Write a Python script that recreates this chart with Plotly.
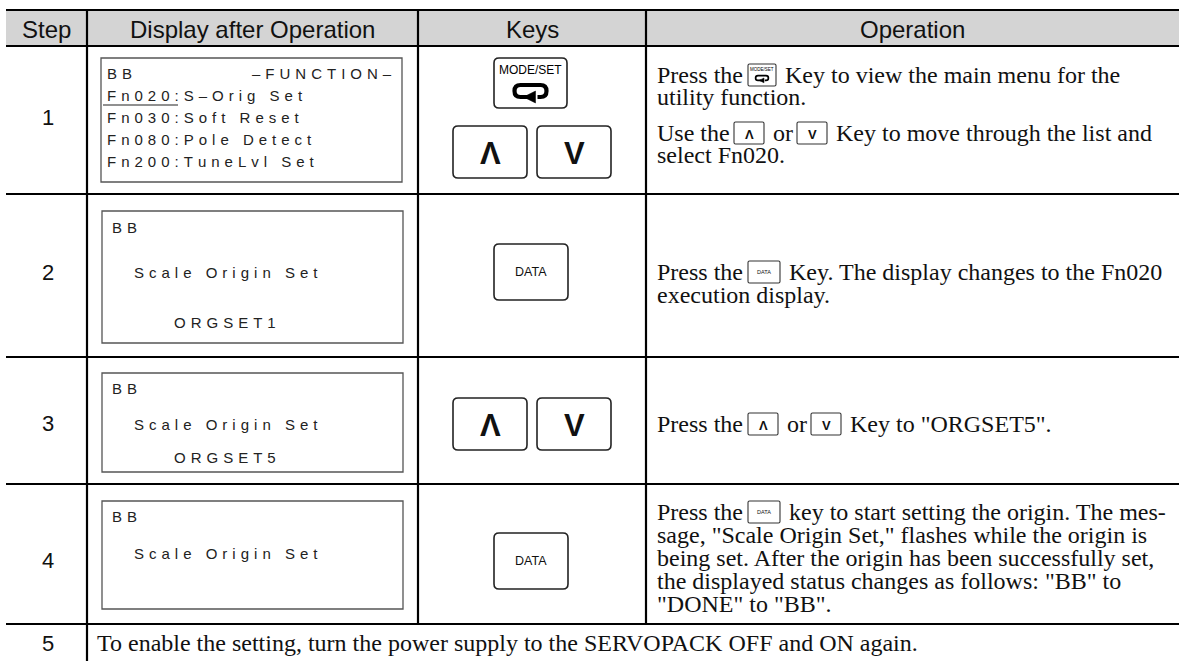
import plotly.graph_objects as go

W, H = 1179, 661

# ---------------- content ----------------
headers = ["Step", "Display after Operation", "Keys", "Operation"]
steps = ["1", "2", "3", "4", "5"]
lcd_lines = [
    ["BB", "Fn020:S–Orig Set", "Fn030:Soft Reset", "Fn080:Pole Detect", "Fn200:TuneLvl Set"],
    ["BB", "Scale Origin Set", "ORGSET1"],
    ["BB", "Scale Origin Set", "ORGSET5"],
    ["BB", "Scale Origin Set"],
]
lcd_title = "–FUNCTION–"
row_keys = [["MODE/SET", "UP", "DOWN"], ["DATA"], ["UP", "DOWN"], ["DATA"]]
op_lines = [
    [
        [("t", "Press the"), ("k", "MODE/SET"), ("t", "Key to view the main menu for the")],
        [("t", "utility function.")],
        [("t", "Use the"), ("k", "UP"), ("t", "or"), ("k", "DOWN"), ("t", "Key to move through the list and")],
        [("t", "select Fn020.")],
    ],
    [
        [("t", "Press the"), ("k", "DATA"), ("t", "Key. The display changes to the Fn020")],
        [("t", "execution display.")],
    ],
    [
        [("t", "Press the"), ("k", "UP"), ("t", "or"), ("k", "DOWN"), ("t", "Key to \"ORGSET5\".")],
    ],
    [
        [("t", "Press the"), ("k", "DATA"), ("t", "key to start setting the origin. The mes-")],
        [("t", "sage, \"Scale Origin Set,\" flashes while the origin is")],
        [("t", "being set. After the origin has been successfully set,")],
        [("t", "the displayed status changes as follows: \"BB\" to")],
        [("t", "\"DONE\" to \"BB\".")],
    ],
]
step5_text = "To enable the setting, turn the power supply to the SERVOPACK OFF and ON again."

# ---------------- layout (pixels) ----------------
col_x = [6, 87, 418, 646, 1179]
row_y = [10, 46, 194, 357, 484, 624, 661]
step_y = [117, 272, 423, 560, 643]

lcd_boxes = [(101, 402, 58, 182), (102, 403, 211, 343), (102, 403, 373, 472), (102, 403, 501, 609)]
lcd_pos = [
    [(105, 73), (105, 95), (105, 117), (105, 139), (105, 161)],
    [(110, 227), (132, 272), (172, 322)],
    [(110, 388), (132, 424), (172, 457)],
    [(110, 516), (132, 553)],
]
lcd_title_pos = (394, 73)
underline = (103, 178, 105)

key_boxes = [
    [(494, 567, 58, 108), (453, 527, 126, 178), (537, 611, 126, 178)],
    [(494, 568, 244, 300)],
    [(453, 527, 398, 450), (537, 611, 398, 450)],
    [(494, 568, 533, 589)],
]

op_y = [[75, 97, 133, 155], [272, 295], [424], [512, 535, 558, 581, 604]]
op_x = [
    [[655, (748, 776), 783], [655], [655, (734, 764), 771, (797, 827), 834], [655]],
    [[655, (748, 780), 787], [655]],
    [[655, (748, 778), 785, (811, 841), 848]],
    [[655, (748, 780), 787], [655], [655], [655], [655]],
]

SANS = "Liberation Sans, Arial, sans-serif"
SERIF = "Liberation Serif, Times New Roman, serif"

shapes = []
annotations = []


def add_text(x, y, text, size, family, xanchor="left", color="#111", bold=False):
    annotations.append(dict(
        x=x, y=y, xref="x", yref="y", text=text, showarrow=False,
        xanchor=xanchor, yanchor="middle",
        font=dict(size=size, family=family, color=color, weight=700 if bold else 400),
    ))


def line(x0, y0, x1, y1, w=2.2, color="#000"):
    shapes.append(dict(type="line", x0=x0, y0=y0, x1=x1, y1=y1, xref="x", yref="y",
                       line=dict(color=color, width=w), layer="above"))


def rrect_path(x0, x1, y0, y1, r):
    return (f"M{x0+r},{y0} L{x1-r},{y0} Q{x1},{y0} {x1},{y0+r} L{x1},{y1-r} "
            f"Q{x1},{y1} {x1-r},{y1} L{x0+r},{y1} Q{x0},{y1} {x0},{y1-r} "
            f"L{x0},{y0+r} Q{x0},{y0} {x0+r},{y0} Z")


def box(x0, x1, y0, y1, r, lw, color):
    shapes.append(dict(type="path", path=rrect_path(x0, x1, y0, y1, r), xref="x", yref="y",
                       line=dict(color=color, width=lw), fillcolor="white", layer="above"))


def loop_arrow(cx, cy, s):
    hw, hh = 16 * s, 6 * s
    xl, xr, yt, yb = cx - hw, cx + hw, cy - hh, cy + hh
    r = hh
    p = (f"M{cx-2*s},{yb} L{xl+r},{yb} Q{xl},{yb} {xl},{cy} Q{xl},{yt} {xl+r},{yt} "
         f"L{xr-r},{yt} Q{xr},{yt} {xr},{cy} Q{xr},{yb} {xr-r},{yb} L{cx+7*s},{yb}")
    shapes.append(dict(type="path", path=p, xref="x", yref="y",
                       line=dict(color="#000", width=max(4.2 * s, 1.2)), layer="above"))
    a = f"M{cx-7*s},{yb} L{cx+5*s},{yb-6*s} L{cx+5*s},{yb+6*s} Z"
    shapes.append(dict(type="path", path=a, xref="x", yref="y",
                       line=dict(color="#000", width=0.5), fillcolor="#000", layer="above"))


def big_key(kind, x0, x1, y0, y1):
    box(x0, x1, y0, y1, 5, 1.6, "#222")
    cx, cy = (x0 + x1) / 2, (y0 + y1) / 2
    if kind == "MODE/SET":
        add_text(cx, y0 + 12, "MODE/SET", 12, SANS, "center", "#000")
        loop_arrow(cx, y0 + 33, 1.0)
    elif kind == "UP":
        add_text(cx, cy + 1, "Λ", 31, SANS, "center", "#111", bold=True)
    elif kind == "DOWN":
        add_text(cx, cy + 1, "V", 31, SANS, "center", "#111", bold=True)
    else:
        add_text(cx, cy, kind, 12.5, SANS, "center", "#111")


def small_key(kind, x0, x1, yc):
    y0, y1 = yc - 11, yc + 11
    box(x0, x1, y0, y1, 1.5, 1.1, "#333")
    cx = (x0 + x1) / 2
    if kind == "MODE/SET":
        add_text(cx, y0 + 5, "MODE/SET", 4.5, SANS, "center", "#000")
        loop_arrow(cx, y0 + 14, 0.4)
    elif kind == "UP":
        add_text(cx, yc + 1, "Λ", 13, SANS, "center", "#111", bold=True)
    elif kind == "DOWN":
        add_text(cx, yc + 1, "V", 13, SANS, "center", "#111", bold=True)
    else:
        add_text(cx, yc, kind, 5.5, SANS, "center", "#111")


def spaced(s):
    return "\u2004".join(list(s))


# ---------------- table frame ----------------
shapes.append(dict(type="rect", x0=col_x[0], x1=col_x[-1], y0=row_y[0], y1=row_y[1],
                   xref="x", yref="y", fillcolor="#d4d4d4", line=dict(width=0), layer="below"))
for yy in row_y[:-1]:
    line(col_x[0], yy, col_x[-1], yy)
line(col_x[1], row_y[0], col_x[1], row_y[-1])
line(col_x[2], row_y[0], col_x[2], row_y[-2])
line(col_x[3], row_y[0], col_x[3], row_y[-2])

# headers
for i, h in enumerate(headers):
    add_text((col_x[i] + col_x[i + 1]) / 2, (row_y[0] + row_y[1]) / 2 + 1, h, 24, SANS, "center", "#111")

# step numbers
for s, yy in zip(steps, step_y):
    add_text((col_x[0] + col_x[1]) / 2 + 1, yy, s, 22, SANS, "center", "#111")

# LCD displays
for bx, lines_, pos in zip(lcd_boxes, lcd_lines, lcd_pos):
    shapes.append(dict(type="rect", x0=bx[0], x1=bx[1], y0=bx[2], y1=bx[3], xref="x", yref="y",
                       line=dict(color="#555", width=1.3), fillcolor="white", layer="above"))
    for t, (px, py) in zip(lines_, pos):
        add_text(px, py, spaced(t), 15, SANS, "left", "#222")
add_text(lcd_title_pos[0], lcd_title_pos[1], spaced(lcd_title), 15, SANS, "right", "#222")
line(underline[0], underline[2], underline[1], underline[2], w=1.2, color="#222")

# keys column
for kinds, boxes in zip(row_keys, key_boxes):
    for k, b in zip(kinds, boxes):
        big_key(k, *b)

# operation column
for r, (rows, ys, xs) in enumerate(zip(op_lines, op_y, op_x)):
    for segs, yy, sx in zip(rows, ys, xs):
        for (kind, content), pos in zip(segs, sx):
            if kind == "t":
                add_text(pos, yy, content, 24, SERIF, "left", "#111")
            else:
                small_key(content, pos[0], pos[1], yy)

# step 5 text
add_text(95, step_y[-1], step5_text, 24, SERIF, "left", "#111")

fig = go.Figure()
fig.update_layout(
    width=W, height=H, margin=dict(l=0, r=0, t=0, b=0),
    paper_bgcolor="white", plot_bgcolor="white",
    xaxis=dict(range=[0, W], visible=False, fixedrange=True),
    yaxis=dict(range=[H, 0], visible=False, fixedrange=True),
    shapes=shapes, annotations=annotations, showlegend=False,
)
fig.write_html("out.html", config={"displayModeBar": False},
               post_script="document.body.style.margin='0';document.body.style.overflow='hidden';")
